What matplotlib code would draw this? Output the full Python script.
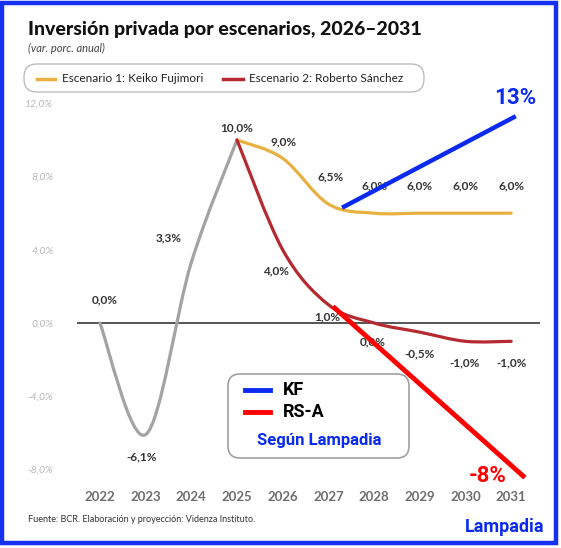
import matplotlib
matplotlib.use("Agg")
import matplotlib.pyplot as plt
import numpy as np
from matplotlib.path import Path
from matplotlib.patches import PathPatch, FancyBboxPatch, Rectangle
from matplotlib.transforms import Affine2D

# ---------------- data ----------------
years = [2022, 2023, 2024, 2025, 2026, 2027, 2028, 2029, 2030, 2031]
hist_years = [2022, 2023, 2024, 2025]
hist_vals = [0.0, -6.1, 3.3, 10.0]
sc_years = [2025, 2026, 2027, 2028, 2029, 2030, 2031]
sc1_vals = [10.0, 9.0, 6.5, 6.0, 6.0, 6.0, 6.0]
sc2_vals = [10.0, 4.0, 1.0, 0.0, -0.5, -1.0, -1.0]
kf_x = [2027.3, 2031.1]
kf_y = [6.3, 11.3]
rsa_x = [2027.1, 2031.3]
rsa_y = [0.9, -8.45]
yticks = [-8, -4, 0, 4, 8, 12]
ytick_labels = ["-8,0%", "-4,0%", "0,0%", "4,0%", "8,0%", "12,0%"]

W, H = 561, 548
fig = plt.figure(figsize=(W / 100, H / 100), dpi=100)
px = Affine2D().scale(1 / W, -1 / H).translate(0, 1) + fig.transFigure

FONT = "Lato"
DARK = "#333333"
ORANGE = "#E8B040"
RED = "#B52A30"
GRAY = "#A3A3A3"
BLUE = "#0A2AF0"

# axes
x0, x1 = 2021.5, 2031.63
y0, y1 = -8.6, 12.2
ax_l, ax_r = 77, 540
ax_t = 323 - y1 * 18.3
ax_b = 323 - y0 * 18.3
ax = fig.add_axes([ax_l / W, 1 - ax_b / H, (ax_r - ax_l) / W, (ax_b - ax_t) / H])
ax.set_xlim(x0, x1)
ax.set_ylim(y0, y1)
for s in ax.spines.values():
    s.set_visible(False)
ax.set_yticks(yticks)
ax.set_yticklabels(ytick_labels, fontsize=7.5, color="#B8B8B8", style="italic", family=FONT)
ax.set_xticks(years)
ax.set_xticklabels([str(y) for y in years], fontsize=9.5, color="#6E6E6E", fontweight="bold", family=FONT)
ax.tick_params(axis="y", length=0, pad=17)
ax.tick_params(axis="x", length=0, pad=8)
ax.axhline(0, color="#555555", lw=1.4, zorder=1)


def smooth(xs, ys):
    pts = np.column_stack([xs, ys]).astype(float)
    n = len(pts)
    verts = [pts[0]]
    codes = [Path.MOVETO]
    for i in range(n - 1):
        p0 = pts[i - 1] if i > 0 else pts[i]
        p1 = pts[i]
        p2 = pts[i + 1]
        p3 = pts[i + 2] if i + 2 < n else pts[i + 1]
        c1 = p1 + (p2 - p0) / 6
        c2 = p2 - (p3 - p1) / 6
        verts += [c1, c2, p2]
        codes += [Path.CURVE4] * 3
    return Path(verts, codes)


for xs, ys, c in [(hist_years, hist_vals, GRAY), (sc_years, sc1_vals, ORANGE), (sc_years, sc2_vals, RED)]:
    ax.add_patch(PathPatch(smooth(xs, ys), fill=False, edgecolor=c, lw=2.3, capstyle="round", zorder=3))

# data labels
def fmt(v):
    return f"{v:.1f}".replace(".", ",") + "%"

hist_off = [(5, 23), (-4, -22), (-23, 25), (0, 12)]
sc1_off = [None, (1, 16), (2, 27), (0, 27), (0, 27), (0, 27), (0, 27)]
sc2_off = [None, (-7, -21), (-1, -12), (-1, -19), (0, -22), (-1, -22), (0, -22)]
for xs, ys, offs in [(hist_years, hist_vals, hist_off), (sc_years, sc1_vals, sc1_off), (sc_years, sc2_vals, sc2_off)]:
    for xv, yv, o in zip(xs, ys, offs):
        if o is None:
            continue
        ax.annotate(fmt(yv), (xv, yv), xytext=o, textcoords="offset pixels", ha="center", va="center",
                    fontsize=8.5, fontweight="bold", color=DARK, family=FONT, zorder=4)

# Lampadia overlay lines
ax.plot(kf_x, kf_y, color=BLUE, lw=3.2, solid_capstyle="butt", zorder=5, clip_on=False)
ax.plot(rsa_x, rsa_y, color="#FF0000", lw=3.5, solid_capstyle="butt", zorder=5, clip_on=False)
fig.text(515, 98, "13%", transform=px, ha="center", va="center", fontsize=16, fontweight="bold", color=BLUE, family="Roboto")
fig.text(488, 476, "-8%", transform=px, ha="center", va="center", fontsize=16, fontweight="bold", color="#FF0000", family="Roboto")

# inner legend box
fig.patches.append(FancyBboxPatch((228, 374), 181, 84, boxstyle="round,pad=0,rounding_size=12", transform=px,
                                  facecolor="white", edgecolor="#A0A0A0", lw=1.2, zorder=6))
fig.lines.append(plt.Line2D([245, 270], [390, 390], transform=px, color=BLUE, lw=3.5, zorder=7))
fig.lines.append(plt.Line2D([245, 270], [412, 412], transform=px, color="#FF0000", lw=3.5, zorder=7))
fig.text(283, 390, "KF", transform=px, ha="left", va="center", fontsize=13, fontweight="bold", color="black", family="Roboto", zorder=7)
fig.text(283, 412, "RS-A", transform=px, ha="left", va="center", fontsize=13, fontweight="bold", color="black", family="Roboto", zorder=7)
fig.text(319, 441, "Según Lampadia", transform=px, ha="center", va="center", fontsize=12, fontweight="bold", color=BLUE, family="Roboto", zorder=7)

# title / subtitle
fig.text(28, 30, "Inversión privada por escenarios, 2026–2031", transform=px, ha="left", va="center",
         fontsize=14, fontweight="black", color="#111111", family=FONT)
fig.text(28, 48, "(var. porc. anual)", transform=px, ha="left", va="center", fontsize=8,
         style="italic", color="#444444", family=FONT)

# top legend
fig.patches.append(FancyBboxPatch((24, 64), 400, 28, boxstyle="round,pad=0,rounding_size=13", transform=px,
                                  facecolor="white", edgecolor="#BDBDBD", lw=1.0))
fig.lines.append(plt.Line2D([37, 55], [79, 79], transform=px, color=ORANGE, lw=2.5))
fig.lines.append(plt.Line2D([223, 243], [79, 79], transform=px, color=RED, lw=2.5))
fig.text(62, 79, "Escenario 1: Keiko Fujimori", transform=px, ha="left", va="center", fontsize=8.5, color="#222222", family=FONT)
fig.text(249, 79, "Escenario 2: Roberto Sánchez", transform=px, ha="left", va="center", fontsize=8.5, color="#222222", family=FONT)

# source and brand
fig.text(28, 520, "Fuente: BCR. Elaboración y proyección: Videnza Instituto.", transform=px, ha="left", va="center",
         fontsize=6.5, color="#333333", family=FONT)
fig.text(505, 527, "Lampadia", transform=px, ha="center", va="center", fontsize=13, fontweight="bold", color=BLUE, family="Roboto")

# outer blue border
fig.patches.append(Rectangle((2.5, 2.5), 553.5, 540.5, transform=px, fill=False, edgecolor="#1530F0", lw=3.2))

fig.savefig("out.png", dpi=100)
